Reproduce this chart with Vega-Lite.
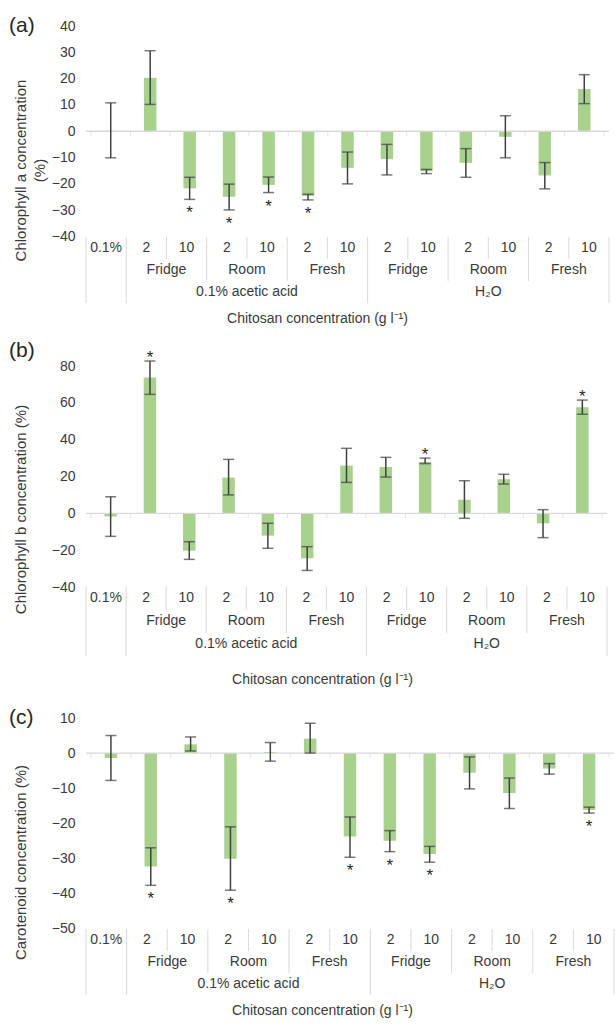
{
  "$schema": "https://vega.github.io/schema/vega-lite/v6.json",
  "background": "white",
  "padding": {"left": 8, "top": 15, "right": 0, "bottom": 0},
  "config": {
    "font": "Liberation Sans",
    "view": {"stroke": null},
    "axis": {"domain": false, "ticks": false, "grid": false, "labelOverlap": false, "labelFontSize": 14, "labelColor": "#3a3a3a", "labelPadding": 11, "titleFontSize": 15, "titleFontWeight": "normal", "titleColor": "#3a3a3a", "titleLineHeight": 19},
    "title": {"fontSize": 21, "fontWeight": "normal", "color": "#262626", "anchor": "start", "frame": "bounds"}
  },
  "datasets": {
    "a": [
      {"pos": 0.5, "val": 0.2, "lo": -10.1, "hi": 10.8, "sig": "none"},
      {"pos": 1.5, "val": 20.3, "lo": 10.2, "hi": 30.6, "sig": "none"},
      {"pos": 2.5, "val": -21.7, "lo": -25.9, "hi": -17.5, "sig": "below"},
      {"pos": 3.5, "val": -24.9, "lo": -29.9, "hi": -20.1, "sig": "below"},
      {"pos": 4.5, "val": -20.4, "lo": -23.3, "hi": -17.4, "sig": "below"},
      {"pos": 5.5, "val": -24.6, "lo": -26.1, "hi": -23.9, "sig": "below"},
      {"pos": 6.5, "val": -13.9, "lo": -20.0, "hi": -7.9, "sig": "none"},
      {"pos": 7.5, "val": -10.6, "lo": -16.6, "hi": -5.0, "sig": "none"},
      {"pos": 8.5, "val": -15.2, "lo": -16.1, "hi": -14.5, "sig": "none"},
      {"pos": 9.5, "val": -12.0, "lo": -17.5, "hi": -6.6, "sig": "none"},
      {"pos": 10.5, "val": -2.1, "lo": -10.1, "hi": 5.9, "sig": "none"},
      {"pos": 11.5, "val": -16.8, "lo": -21.9, "hi": -11.9, "sig": "none"},
      {"pos": 12.5, "val": 16.0, "lo": 10.5, "hi": 21.5, "sig": "none"}
    ],
    "b": [
      {"pos": 0.5, "val": -1.7, "lo": -12.5, "hi": 9.0, "sig": "none"},
      {"pos": 1.5, "val": 73.8, "lo": 64.6, "hi": 82.7, "sig": "above"},
      {"pos": 2.5, "val": -20.3, "lo": -25.0, "hi": -15.4, "sig": "none"},
      {"pos": 3.5, "val": 19.4, "lo": 10.0, "hi": 29.3, "sig": "none"},
      {"pos": 4.5, "val": -12.1, "lo": -19.0, "hi": -5.4, "sig": "none"},
      {"pos": 5.5, "val": -24.4, "lo": -31.0, "hi": -18.1, "sig": "none"},
      {"pos": 6.5, "val": 25.9, "lo": 16.8, "hi": 35.3, "sig": "none"},
      {"pos": 7.5, "val": 25.2, "lo": 19.7, "hi": 30.4, "sig": "none"},
      {"pos": 8.5, "val": 27.9, "lo": 27.0, "hi": 30.0, "sig": "above"},
      {"pos": 9.5, "val": 7.4, "lo": -2.7, "hi": 17.7, "sig": "none"},
      {"pos": 10.5, "val": 18.5, "lo": 15.9, "hi": 21.2, "sig": "none"},
      {"pos": 11.5, "val": -5.4, "lo": -13.2, "hi": 2.0, "sig": "none"},
      {"pos": 12.5, "val": 57.6, "lo": 53.8, "hi": 61.5, "sig": "above"}
    ],
    "c": [
      {"pos": 0.5, "val": -1.4, "lo": -7.8, "hi": 5.0, "sig": "none"},
      {"pos": 1.5, "val": -32.3, "lo": -37.7, "hi": -27.0, "sig": "below"},
      {"pos": 2.5, "val": 2.5, "lo": 0.6, "hi": 4.6, "sig": "none"},
      {"pos": 3.5, "val": -30.1, "lo": -39.1, "hi": -21.0, "sig": "below"},
      {"pos": 4.5, "val": 0.3, "lo": -2.3, "hi": 3.0, "sig": "none"},
      {"pos": 5.5, "val": 4.1, "lo": 0.0, "hi": 8.5, "sig": "none"},
      {"pos": 6.5, "val": -23.8, "lo": -29.7, "hi": -18.2, "sig": "below"},
      {"pos": 7.5, "val": -25.0, "lo": -28.1, "hi": -22.1, "sig": "below"},
      {"pos": 8.5, "val": -28.8, "lo": -31.1, "hi": -26.6, "sig": "below"},
      {"pos": 9.5, "val": -5.6, "lo": -10.2, "hi": -1.1, "sig": "none"},
      {"pos": 10.5, "val": -11.4, "lo": -15.8, "hi": -7.1, "sig": "none"},
      {"pos": 11.5, "val": -4.4, "lo": -6.0, "hi": -3.0, "sig": "none"},
      {"pos": 12.5, "val": -16.2, "lo": -17.1, "hi": -15.4, "sig": "below"}
    ],
    "labels": [
      {"x": 0.5, "row": 0.5, "label": "0.1%"},
      {"x": 1.5, "row": 0.5, "label": "2"},
      {"x": 2.5, "row": 0.5, "label": "10"},
      {"x": 3.5, "row": 0.5, "label": "2"},
      {"x": 4.5, "row": 0.5, "label": "10"},
      {"x": 5.5, "row": 0.5, "label": "2"},
      {"x": 6.5, "row": 0.5, "label": "10"},
      {"x": 7.5, "row": 0.5, "label": "2"},
      {"x": 8.5, "row": 0.5, "label": "10"},
      {"x": 9.5, "row": 0.5, "label": "2"},
      {"x": 10.5, "row": 0.5, "label": "10"},
      {"x": 11.5, "row": 0.5, "label": "2"},
      {"x": 12.5, "row": 0.5, "label": "10"},
      {"x": 2, "row": 1.5, "label": "Fridge"},
      {"x": 4, "row": 1.5, "label": "Room"},
      {"x": 6, "row": 1.5, "label": "Fresh"},
      {"x": 8, "row": 1.5, "label": "Fridge"},
      {"x": 10, "row": 1.5, "label": "Room"},
      {"x": 12, "row": 1.5, "label": "Fresh"},
      {"x": 4, "row": 2.5, "label": "0.1% acetic acid"},
      {"x": 10, "row": 2.5, "label": "H₂O"}
    ],
    "seps": [
      {"x": 0, "top": 0, "depth": 3}, {"x": 1, "top": 0, "depth": 3}, {"x": 2, "top": 0, "depth": 1}, {"x": 3, "top": 0, "depth": 2},
      {"x": 4, "top": 0, "depth": 1}, {"x": 5, "top": 0, "depth": 2}, {"x": 6, "top": 0, "depth": 1}, {"x": 7, "top": 0, "depth": 3},
      {"x": 8, "top": 0, "depth": 1}, {"x": 9, "top": 0, "depth": 2}, {"x": 10, "top": 0, "depth": 1}, {"x": 11, "top": 0, "depth": 2},
      {"x": 12, "top": 0, "depth": 1}, {"x": 13, "top": 0, "depth": 3}
    ]
  },
  "bounds": "flush",
  "spacing": 0,
  "vconcat": [
    {
      "width": 523, "height": 210.5,
      "title": {"text": "(a)", "dx": -4, "dy": 21},
      "resolve": {"axis": {"x": "independent", "y": "independent"}},
      "layer": [
        {"data": {"name": "a"}, "mark": {"type": "bar", "orient": "vertical", "color": "#a9d18e", "size": 12.5},
         "encoding": {"x": {"field": "pos", "type": "quantitative", "scale": {"domain": [0, 13], "nice": false, "zero": false}, "axis": null},
                      "y": {"field": "val", "type": "quantitative", "scale": {"domain": [-40, 40], "nice": false, "zero": false},
                            "axis": {"values": [-40, -30, -20, -10, 0, 10, 20, 30, 40], "labelOverlap": false, "title": ["Chlorophyll a concentration", "(%)"], "titleX": -58, "titleY": 144}},
                      "y2": {"datum": 0}}},
        {"data": {"values": [{}]}, "mark": {"type": "rule", "color": "#d9d9d9", "strokeWidth": 1.3},
         "encoding": {"y": {"datum": 0, "axis": null}}},
        {"data": {"name": "seps"}, "mark": {"type": "tick", "orient": "vertical", "color": "#d9d9d9", "size": 5, "thickness": 1, "yOffset": 2.5},
         "encoding": {"x": {"field": "x", "type": "quantitative", "axis": null}, "y": {"field": "top", "type": "quantitative", "axis": null}}},
        {"data": {"name": "a"}, "mark": {"type": "rule", "color": "#404040", "strokeWidth": 1.5},
         "encoding": {"x": {"field": "pos", "type": "quantitative", "axis": null}, "y": {"field": "lo", "type": "quantitative", "axis": null}, "y2": {"field": "hi"}}},
        {"data": {"name": "a"}, "mark": {"type": "tick", "orient": "horizontal", "color": "#404040", "size": 11, "thickness": 1.5},
         "encoding": {"x": {"field": "pos", "type": "quantitative", "axis": null}, "y": {"field": "lo", "type": "quantitative", "axis": null}}},
        {"data": {"name": "a"}, "mark": {"type": "tick", "orient": "horizontal", "color": "#404040", "size": 11, "thickness": 1.5},
         "encoding": {"x": {"field": "pos", "type": "quantitative", "axis": null}, "y": {"field": "hi", "type": "quantitative", "axis": null}}},
        {"data": {"name": "a"}, "transform": [{"filter": "datum.sig === 'below'"}], "mark": {"type": "text", "text": "*", "fontSize": 17, "color": "#262626", "baseline": "alphabetic", "dy": 19},
         "encoding": {"x": {"field": "pos", "type": "quantitative", "axis": null}, "y": {"field": "lo", "type": "quantitative", "axis": null}}}
      ]
    },
    {
      "width": 523, "height": 128.5,
      "resolve": {"axis": {"x": "independent", "y": "independent"}},
      "layer": [
        {"data": {"name": "seps"}, "mark": {"type": "rule", "color": "#d9d9d9", "strokeWidth": 1},
         "encoding": {"x": {"field": "x", "type": "quantitative", "scale": {"domain": [0, 13], "nice": false, "zero": false},
                            "axis": {"labels": false, "title": "Chitosan concentration (g l⁻¹)", "titleX": 231, "titleY": -47, "titleBaseline": "middle", "titleFontSize": 14}},
                      "y": {"field": "top", "type": "quantitative", "scale": {"domain": [0, 5.841], "nice": false, "zero": false, "reverse": true}, "axis": null},
                      "y2": {"field": "depth"}}},
        {"data": {"name": "labels"}, "mark": {"type": "text", "fontSize": 14, "color": "#3a3a3a", "baseline": "middle"},
         "encoding": {"x": {"field": "x", "type": "quantitative", "axis": null}, "y": {"field": "row", "type": "quantitative", "axis": null}, "text": {"field": "label"}}}
      ]
    },
    {
      "width": 521, "height": 221,
      "title": {"text": "(b)", "dx": -4, "dy": 16},
      "resolve": {"axis": {"x": "independent", "y": "independent"}},
      "layer": [
        {"data": {"name": "b"}, "mark": {"type": "bar", "orient": "vertical", "color": "#a9d18e", "size": 12.5},
         "encoding": {"x": {"field": "pos", "type": "quantitative", "scale": {"domain": [0, 13], "nice": false, "zero": false}, "axis": null},
                      "y": {"field": "val", "type": "quantitative", "scale": {"domain": [-40, 80], "nice": false, "zero": false},
                            "axis": {"values": [-40, -20, 0, 20, 40, 60, 80], "labelOverlap": false, "title": "Chlorophyll b concentration (%)", "titleX": -58, "titleY": 143}},
                      "y2": {"datum": 0}}},
        {"data": {"values": [{}]}, "mark": {"type": "rule", "color": "#d9d9d9", "strokeWidth": 1.3},
         "encoding": {"y": {"datum": 0, "axis": null}}},
        {"data": {"name": "seps"}, "mark": {"type": "tick", "orient": "vertical", "color": "#d9d9d9", "size": 5, "thickness": 1, "yOffset": 2.5},
         "encoding": {"x": {"field": "x", "type": "quantitative", "axis": null}, "y": {"field": "top", "type": "quantitative", "axis": null}}},
        {"data": {"name": "b"}, "mark": {"type": "rule", "color": "#404040", "strokeWidth": 1.5},
         "encoding": {"x": {"field": "pos", "type": "quantitative", "axis": null}, "y": {"field": "lo", "type": "quantitative", "axis": null}, "y2": {"field": "hi"}}},
        {"data": {"name": "b"}, "mark": {"type": "tick", "orient": "horizontal", "color": "#404040", "size": 11, "thickness": 1.5},
         "encoding": {"x": {"field": "pos", "type": "quantitative", "axis": null}, "y": {"field": "lo", "type": "quantitative", "axis": null}}},
        {"data": {"name": "b"}, "mark": {"type": "tick", "orient": "horizontal", "color": "#404040", "size": 11, "thickness": 1.5},
         "encoding": {"x": {"field": "pos", "type": "quantitative", "axis": null}, "y": {"field": "hi", "type": "quantitative", "axis": null}}},
        {"data": {"name": "b"}, "transform": [{"filter": "datum.sig === 'above'"}], "mark": {"type": "text", "text": "*", "fontSize": 17, "color": "#262626", "baseline": "alphabetic", "dy": 2},
         "encoding": {"x": {"field": "pos", "type": "quantitative", "axis": null}, "y": {"field": "hi", "type": "quantitative", "axis": null}}}
      ]
    },
    {
      "width": 521, "height": 130.5,
      "resolve": {"axis": {"x": "independent", "y": "independent"}},
      "layer": [
        {"data": {"name": "seps"}, "mark": {"type": "rule", "color": "#d9d9d9", "strokeWidth": 1},
         "encoding": {"x": {"field": "x", "type": "quantitative", "scale": {"domain": [0, 13], "nice": false, "zero": false},
                            "axis": {"labels": false, "title": "Chitosan concentration (g l⁻¹)", "titleX": 236, "titleY": -38, "titleBaseline": "middle", "titleFontSize": 14}},
                      "y": {"field": "top", "type": "quantitative", "scale": {"domain": [0, 5.674], "nice": false, "zero": false, "reverse": true}, "axis": null},
                      "y2": {"field": "depth"}}},
        {"data": {"name": "labels"}, "mark": {"type": "text", "fontSize": 14, "color": "#3a3a3a", "baseline": "middle"},
         "encoding": {"x": {"field": "x", "type": "quantitative", "axis": null}, "y": {"field": "row", "type": "quantitative", "axis": null}, "text": {"field": "label"}}}
      ]
    },
    {
      "width": 528, "height": 210.5,
      "title": {"text": "(c)", "dx": -4, "dy": 21},
      "resolve": {"axis": {"x": "independent", "y": "independent"}},
      "layer": [
        {"data": {"name": "c"}, "mark": {"type": "bar", "orient": "vertical", "color": "#a9d18e", "size": 12.5},
         "encoding": {"x": {"field": "pos", "type": "quantitative", "scale": {"domain": [0, 13], "nice": false, "zero": false}, "axis": null},
                      "y": {"field": "val", "type": "quantitative", "scale": {"domain": [-50, 10], "nice": false, "zero": false},
                            "axis": {"values": [-50, -40, -30, -20, -10, 0, 10], "labelOverlap": false, "title": "Carotenoid concentration (%)", "titleX": -58, "titleY": 144}},
                      "y2": {"datum": 0}}},
        {"data": {"values": [{}]}, "mark": {"type": "rule", "color": "#d9d9d9", "strokeWidth": 1.3},
         "encoding": {"y": {"datum": 0, "axis": null}}},
        {"data": {"name": "seps"}, "mark": {"type": "tick", "orient": "vertical", "color": "#d9d9d9", "size": 5, "thickness": 1, "yOffset": 2.5},
         "encoding": {"x": {"field": "x", "type": "quantitative", "axis": null}, "y": {"field": "top", "type": "quantitative", "axis": null}}},
        {"data": {"name": "c"}, "mark": {"type": "rule", "color": "#404040", "strokeWidth": 1.5},
         "encoding": {"x": {"field": "pos", "type": "quantitative", "axis": null}, "y": {"field": "lo", "type": "quantitative", "axis": null}, "y2": {"field": "hi"}}},
        {"data": {"name": "c"}, "mark": {"type": "tick", "orient": "horizontal", "color": "#404040", "size": 11, "thickness": 1.5},
         "encoding": {"x": {"field": "pos", "type": "quantitative", "axis": null}, "y": {"field": "lo", "type": "quantitative", "axis": null}}},
        {"data": {"name": "c"}, "mark": {"type": "tick", "orient": "horizontal", "color": "#404040", "size": 11, "thickness": 1.5},
         "encoding": {"x": {"field": "pos", "type": "quantitative", "axis": null}, "y": {"field": "hi", "type": "quantitative", "axis": null}}},
        {"data": {"name": "c"}, "transform": [{"filter": "datum.sig === 'below'"}], "mark": {"type": "text", "text": "*", "fontSize": 17, "color": "#262626", "baseline": "alphabetic", "dy": 19},
         "encoding": {"x": {"field": "pos", "type": "quantitative", "axis": null}, "y": {"field": "lo", "type": "quantitative", "axis": null}}}
      ]
    },
    {
      "width": 528, "height": 96,
      "resolve": {"axis": {"x": "independent", "y": "independent"}},
      "layer": [
        {"data": {"name": "seps"}, "mark": {"type": "rule", "color": "#d9d9d9", "strokeWidth": 1},
         "encoding": {"x": {"field": "x", "type": "quantitative", "scale": {"domain": [0, 13], "nice": false, "zero": false},
                            "axis": {"labels": false, "title": "Chitosan concentration (g l⁻¹)", "titleX": 236, "titleY": -15, "titleBaseline": "middle", "titleFontSize": 14}},
                      "y": {"field": "top", "type": "quantitative", "scale": {"domain": [0, 4.364], "nice": false, "zero": false, "reverse": true}, "axis": null},
                      "y2": {"field": "depth"}}},
        {"data": {"name": "labels"}, "mark": {"type": "text", "fontSize": 14, "color": "#3a3a3a", "baseline": "middle"},
         "encoding": {"x": {"field": "x", "type": "quantitative", "axis": null}, "y": {"field": "row", "type": "quantitative", "axis": null}, "text": {"field": "label"}}}
      ]
    }
  ]
}
